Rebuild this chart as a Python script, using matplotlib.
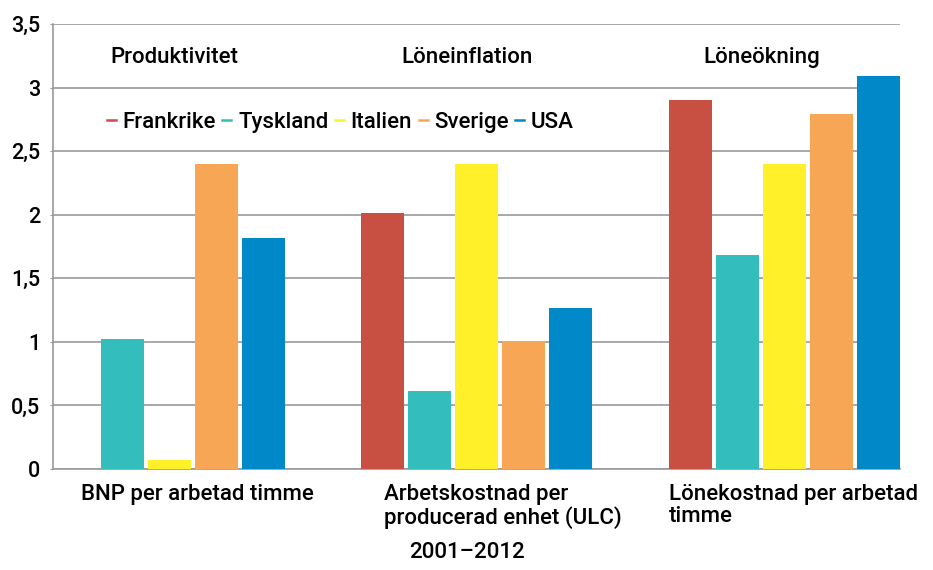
import matplotlib.pyplot as plt
from matplotlib.lines import Line2D
import numpy as np

# data
categories = ["BNP per arbetad timme",
              "Arbetskostnad per\nproducerad enhet (ULC)",
              "Lönekostnad per arbetad\ntimme"]
group_titles = ["Produktivitet", "Löneinflation", "Löneökning"]
countries = ["Frankrike", "Tyskland", "Italien", "Sverige", "USA"]
frankrike = [0.0, 2.01, 2.90]
tyskland = [1.02, 0.61, 1.68]
italien = [0.07, 2.40, 2.40]
sverige = [2.40, 1.01, 2.79]
usa = [1.82, 1.27, 3.09]
series = [frankrike, tyskland, italien, sverige, usa]
colors = ["#C85042", "#33BDBD", "#FFF02A", "#F7A656", "#0088C8"]
yticks = [0, 0.5, 1, 1.5, 2, 2.5, 3, 3.5]
ytick_labels = ["0", "0,5", "1", "1,5", "2", "2,5", "3", "3,5"]
subtitle = "2001–2012"

plt.rcParams['font.family'] = ['Roboto', 'DejaVu Sans']
plt.rcParams['font.weight'] = 'medium'

fig = plt.figure(figsize=(9.33, 5.70), dpi=100)
ax = fig.add_axes([0.0568, 0.1772, 0.9078, 0.7808])

x = np.arange(len(categories))
step = 0.153
width = 0.14
for i, (vals, col) in enumerate(zip(series, colors)):
    ax.bar(x + (i - 2) * step, vals, width=width, color=col, zorder=3)

ax.set_xlim(-0.378, 2 + 2 * step + width / 2)
ax.set_ylim(0, 3.5)
ax.set_yticks(yticks)
ax.set_yticklabels(ytick_labels, fontsize=15.5)
ax.yaxis.grid(True, color="#999999", linewidth=1.2, zorder=0)
ax.tick_params(axis='y', length=2, color="#999999", pad=7)

# category labels are left aligned, each at its own offset
label_dx = [-0.287, -0.303, -0.375]
ax.set_xticks(x + np.array(label_dx))
ax.set_xticklabels(categories, fontsize=16, ha='left', linespacing=1.05, va='top')
ax.tick_params(axis='x', length=0, pad=11)

for s in ["top", "right"]:
    ax.spines[s].set_visible(False)
ax.spines["left"].set_color("#999999")
ax.spines["bottom"].set_color("#999999")
ax.spines["left"].set_linewidth(1.2)
ax.spines["bottom"].set_linewidth(1.2)

title_dx = [0.016, -0.033, -0.072]
for xi, t, dx in zip(x, group_titles, title_dx):
    ax.text(xi + dx, 3.24, t, fontsize=16, ha='center', va='center')

handles = [Line2D([0], [0], color=c, lw=1.8) for c in colors]
ax.legend(handles, countries, loc='center left', bbox_to_anchor=(0.040, 0.778),
          ncol=5, frameon=False, fontsize=16, handlelength=0.4,
          handletextpad=0.3, columnspacing=0.3)

fig.text(467 / 933, 1 - 553 / 570, subtitle, fontsize=16, ha='center', va='center')

fig.savefig("out.png", dpi=100)
